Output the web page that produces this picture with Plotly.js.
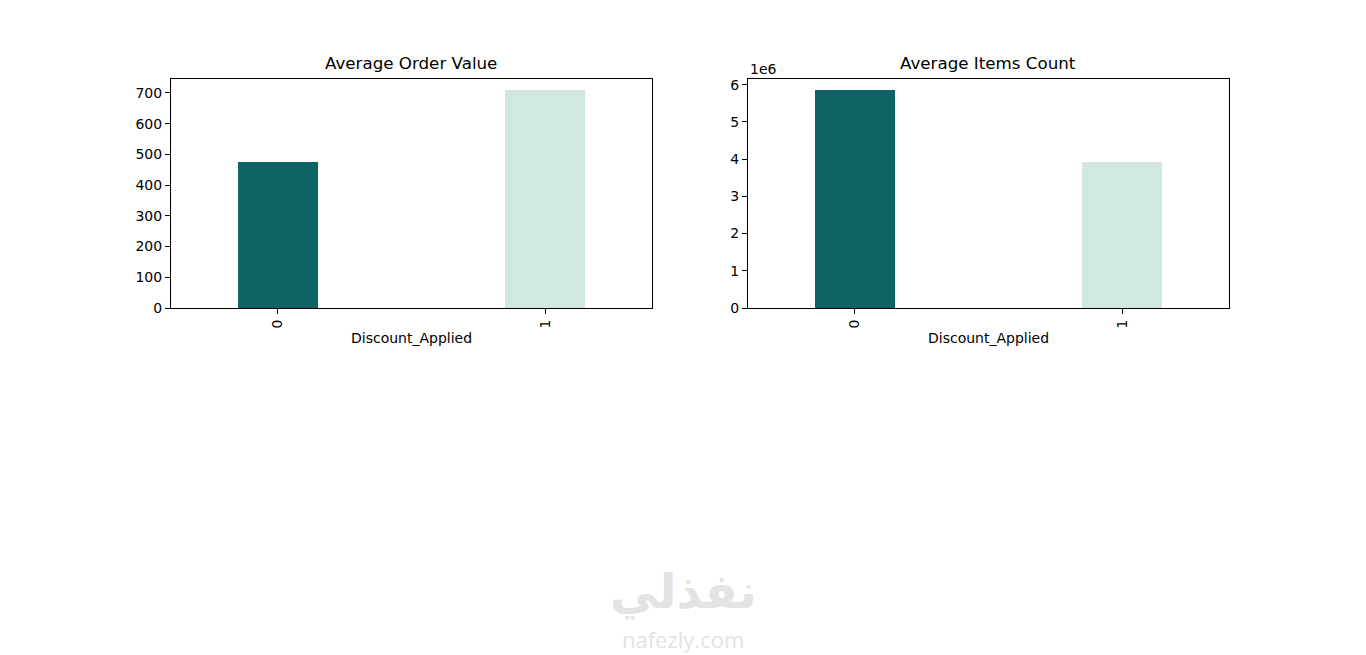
<!DOCTYPE html>
<html><head><meta charset="utf-8">
<script src="https://cdn.plot.ly/plotly-3.0.1.min.js"></script>
<style>html,body{margin:0;padding:0;background:#fff}#chart{width:1366px;height:655px}</style>
</head><body><div id="chart"></div>
<script>
var categories = ["0", "1"];
var categoryPos = [0, 1];
var avgOrderValue = [476, 710];
var avgItemsCount = [5860000, 3930000];
var barColors = ["#116466", "#D1E8E2"];
var leftTickVals = [0, 100, 200, 300, 400, 500, 600, 700];
var rightTickVals = [0, 1e6, 2e6, 3e6, 4e6, 5e6, 6e6];
var rightTickText = ["0", "1", "2", "3", "4", "5", "6"];

var font = "DejaVu Sans, sans-serif";
var W = 1366, H = 655;
var x1 = [171 / W, 652 / W], x2 = [748 / W, 1229 / W];
var yd = [1 - 308 / H, 1 - 79 / H];

var traces = [
  {type: "bar", x: categoryPos, y: avgOrderValue, width: 0.3, marker: {color: barColors, line: {width: 0}}, xaxis: "x", yaxis: "y", hoverinfo: "x+y"},
  {type: "bar", x: categoryPos, y: avgItemsCount, width: 0.3, marker: {color: barColors, line: {width: 0}}, xaxis: "x2", yaxis: "y2", hoverinfo: "x+y"}
];

function xax(dom, anchor) {
  return {domain: dom, anchor: anchor, range: [-0.4, 1.4], tickvals: categoryPos, ticktext: categories,
    tickangle: -90, showgrid: false, zeroline: false, showline: true, mirror: true, linecolor: "#000", linewidth: 1,
    ticks: "outside", ticklen: 5, tickcolor: "#000", tickfont: {family: font, size: 14, color: "#000"}, fixedrange: true};
}
function yax(anchor, range, tv, tt) {
  var a = {domain: yd, anchor: anchor, range: range, tickvals: tv, showgrid: false, zeroline: false, showline: true,
    mirror: true, linecolor: "#000", linewidth: 1, ticks: "outside", ticklen: 5, tickcolor: "#000",
    tickfont: {family: font, size: 14, color: "#000"}, fixedrange: true};
  if (tt) a.ticktext = tt;
  return a;
}

var layout = {
  width: W, height: H, margin: {l: 0, r: 0, t: 0, b: 0}, paper_bgcolor: "#fff", plot_bgcolor: "#fff",
  showlegend: false, bargap: 0,
  xaxis: xax(x1, "y"), yaxis: yax("x", [0, 745.5], leftTickVals),
  xaxis2: xax(x2, "y2"), yaxis2: yax("x2", [0, 6153000], rightTickVals, rightTickText),
  annotations: [
    {text: "Average Order Value", xref: "paper", yref: "paper", x: (x1[0] + x1[1]) / 2, xanchor: "center", y: yd[1], yanchor: "bottom", yshift: 4, showarrow: false, font: {family: font, size: 16.7, color: "#000"}},
    {text: "Average Items Count", xref: "paper", yref: "paper", x: (x2[0] + x2[1]) / 2, xanchor: "center", y: yd[1], yanchor: "bottom", yshift: 4, showarrow: false, font: {family: font, size: 16.7, color: "#000"}},
    {text: "Discount_Applied", xref: "paper", yref: "paper", x: (x1[0] + x1[1]) / 2, xanchor: "center", y: 1 - 338 / H, yanchor: "middle", showarrow: false, font: {family: font, size: 14, color: "#000"}},
    {text: "Discount_Applied", xref: "paper", yref: "paper", x: (x2[0] + x2[1]) / 2, xanchor: "center", y: 1 - 338 / H, yanchor: "middle", showarrow: false, font: {family: font, size: 14, color: "#000"}},
    {text: "1e6", xref: "paper", yref: "paper", x: x2[0], xanchor: "left", y: 1 - 69 / H, yanchor: "middle", showarrow: false, font: {family: font, size: 14, color: "#000"}},
    {text: "<b>نفذلي</b>", xref: "paper", yref: "paper", x: 683 / W, xanchor: "center", y: 1 - 591 / H, yanchor: "middle", showarrow: false, font: {family: "DejaVu Sans, sans-serif", size: 48, color: "#e3e3e3"}},
    {text: "nafezly.com", xref: "paper", yref: "paper", x: 683 / W, xanchor: "center", y: 1 - 639 / H, yanchor: "middle", showarrow: false, font: {family: "Open Sans, sans-serif", size: 22, color: "#e3e3e3"}}
  ]
};

Plotly.newPlot("chart", traces, layout, {displayModeBar: false, staticPlot: true});
</script></body></html>
